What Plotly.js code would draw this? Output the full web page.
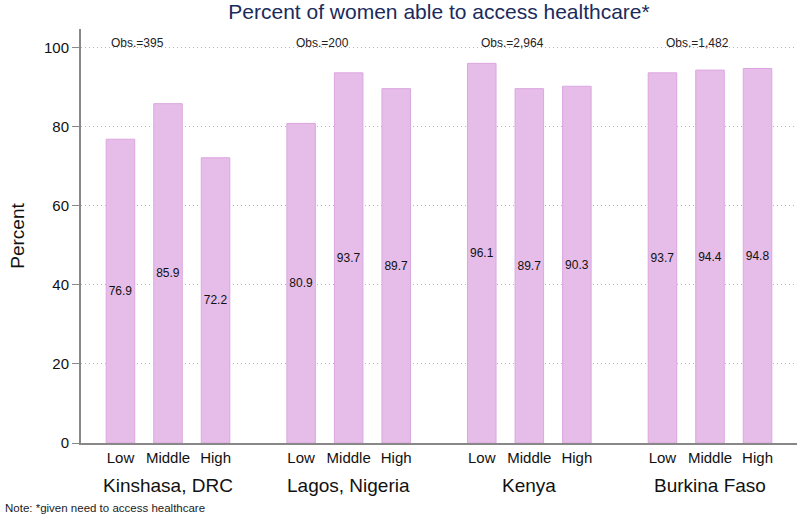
<!DOCTYPE html>
<html>
<head>
<meta charset="utf-8">
<script src="https://cdn.plot.ly/plotly-3.0.1.min.js"></script>
<style>
  html, body { margin: 0; padding: 0; background: #fff; }
  #plot { width: 800px; height: 518px; }
</style>
</head>
<body>
<div id="plot"></div>
<script>
// data
const countries = ["Kinshasa, DRC", "Lagos, Nigeria", "Kenya", "Burkina Faso"];
const wealth = ["Low", "Middle", "High"];
const obs = ["395", "200", "2,964", "1,482"];
const kinshasa = [76.9, 85.9, 72.2];
const lagos = [80.9, 93.7, 89.7];
const kenya = [96.1, 89.7, 90.3];
const burkina = [93.7, 94.4, 94.8];
const values = [kinshasa, lagos, kenya, burkina];

const FONT = "Liberation Sans, Arial, Helvetica, sans-serif";
const groupStep = 3.8;   // distance between group centres, in bar slots
const barColor = "#e5bde8";
const barEdge = "#dca6e0";

let x = [], y = [], txt = [], tickvals = [], ticktext = [];
values.forEach((vals, g) => {
  vals.forEach((v, j) => {
    const pos = g * groupStep + (j - 1);
    x.push(pos);
    y.push(v);
    txt.push(v.toFixed(1));
    tickvals.push(pos);
    ticktext.push(wealth[j]);
  });
});

const annotations = [];
countries.forEach((c, g) => {
  annotations.push({
    x: g * groupStep, xref: "x", y: -0.103, yref: "paper",
    text: c, showarrow: false, xanchor: "center", yanchor: "middle",
    font: { family: FONT, size: 19, color: "#111" }
  });
  annotations.push({
    x: g * 3.895 - 1.25, xref: "x", y: 101.2, yref: "y",
    text: "Obs.=" + obs[g], showarrow: false, xanchor: "left", yanchor: "middle",
    font: { family: FONT, size: 12, color: "#222" }
  });
});
annotations.push({
  x: -0.109, xref: "paper", y: -0.158, yref: "paper",
  text: "Note: *given need to access healthcare", showarrow: false,
  xanchor: "left", yanchor: "middle",
  font: { family: FONT, size: 11.5, color: "#222" }
});

const trace = {
  type: "bar",
  x: x,
  y: y,
  width: 0.6,
  text: txt,
  textposition: "inside",
  insidetextanchor: "middle",
  textangle: 0,
  constraintext: "none",
  textfont: { family: FONT, size: 12, color: "#111" },
  marker: { color: barColor, line: { color: barEdge, width: 1 } },
  hoverinfo: "x+y"
};

const layout = {
  width: 800,
  height: 518,
  margin: { l: 81, r: 3, t: 29, b: 75 },
  paper_bgcolor: "#fff",
  plot_bgcolor: "#fff",
  showlegend: false,
  font: { family: FONT, color: "#111" },
  title: {
    text: "Percent of women able to access healthcare*",
    font: { family: FONT, size: 21, color: "#1a2b5c" },
    x: 0.5, xref: "paper", xanchor: "center",
    y: 0.977, yref: "container", yanchor: "middle"
  },
  xaxis: {
    range: [-1.83, 13.23],
    tickmode: "array",
    tickvals: tickvals,
    ticktext: ticktext,
    ticks: "",
    tickfont: { family: FONT, size: 15, color: "#111" },
    showgrid: false,
    zeroline: false,
    showline: true,
    linecolor: "#888",
    linewidth: 1.5
  },
  yaxis: {
    range: [0, 104.8],
    tickvals: [0, 20, 40, 60, 80, 100],
    ticks: "outside",
    ticklen: 7,
    tickcolor: "#888",
    tickwidth: 1,
    tickfont: { family: FONT, size: 15, color: "#111" },
    showgrid: true,
    gridcolor: "#b4b4b4",
    griddash: "1px,3px",
    gridwidth: 1,
    zeroline: false,
    showline: true,
    linecolor: "#888",
    linewidth: 2,
    title: { text: "Percent", font: { family: FONT, size: 19, color: "#111" }, standoff: 14 }
  },
  annotations: annotations,
  bargap: 0
};

Plotly.newPlot("plot", [trace], layout, { displayModeBar: false, staticPlot: true });
</script>
</body>
</html>
